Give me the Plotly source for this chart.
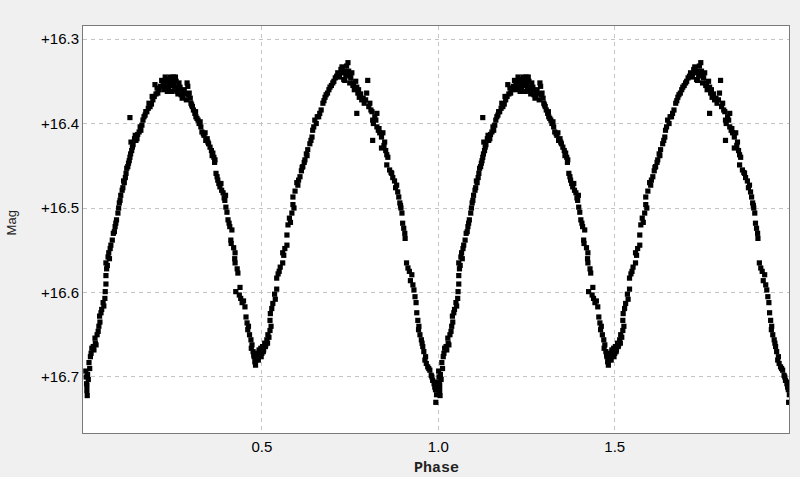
import plotly.graph_objects as go

phase = [
    0.001, 0.002, 0.003, 0.004, 0.005, 0.006, 0.008, 0.012, 0.016, 0.018,
    0.024, 0.028, 0.030, 0.033, 0.036, 0.038, 0.041, 0.040, 0.046, 0.050,
    0.055, 0.056, 0.058, 0.058, 0.060, 0.058, 0.064, 0.066, 0.070, 0.072,
    0.076, 0.079, 0.084, 0.086, 0.088, 0.092, 0.094, 0.098, 0.100, 0.104,
    0.106, 0.110, 0.115, 0.117, 0.120, 0.124, 0.126, 0.128, 0.129, 0.133,
    0.135, 0.139, 0.143, 0.148, 0.152, 0.157, 0.160, 0.163, 0.126, 0.166,
    0.169, 0.174, 0.178, 0.183, 0.187, 0.191, 0.195, 0.197, 0.200, 0.205,
    0.208, 0.213, 0.220, 0.222, 0.226, 0.228, 0.230, 0.232, 0.235, 0.238,
    0.240, 0.242, 0.244, 0.246, 0.249, 0.251, 0.253, 0.255, 0.257, 0.260,
    0.262, 0.265, 0.268, 0.271, 0.274, 0.276, 0.280, 0.284, 0.288, 0.290,
    0.294, 0.297, 0.299, 0.303, 0.306, 0.310, 0.313, 0.316, 0.319, 0.322,
    0.327, 0.330, 0.334, 0.339, 0.341, 0.345, 0.349, 0.353, 0.357, 0.361,
    0.364, 0.367, 0.370, 0.373, 0.375, 0.378, 0.381, 0.386, 0.390, 0.393,
    0.395, 0.398, 0.401, 0.404, 0.407, 0.409, 0.412, 0.413, 0.424, 0.423,
    0.424, 0.430, 0.432, 0.426, 0.436, 0.440, 0.444, 0.452, 0.455, 0.458,
    0.460, 0.465, 0.469, 0.472, 0.475, 0.478, 0.480, 0.482, 0.484, 0.487,
    0.490, 0.492, 0.494, 0.497, 0.500, 0.502, 0.505, 0.508, 0.511, 0.514,
    0.517, 0.520, 0.523, 0.523, 0.524, 0.528, 0.531, 0.536, 0.542, 0.542,
    0.546, 0.552, 0.559, 0.559, 0.565, 0.571, 0.571, 0.574, 0.578, 0.585,
    0.588, 0.588, 0.594, 0.599, 0.604, 0.608, 0.612, 0.616, 0.620, 0.622,
    0.626, 0.630, 0.636, 0.642, 0.644, 0.647, 0.650, 0.657, 0.664, 0.668,
    0.673, 0.676, 0.679, 0.686, 0.693, 0.697, 0.701, 0.708, 0.715, 0.720,
    0.724, 0.727, 0.730, 0.732, 0.735, 0.738, 0.740, 0.744, 0.746, 0.749,
    0.752, 0.755, 0.758, 0.762, 0.766, 0.769, 0.772, 0.776, 0.780, 0.783,
    0.790, 0.797, 0.800, 0.803, 0.806, 0.809, 0.812, 0.769, 0.814, 0.820,
    0.826, 0.826, 0.830, 0.834, 0.843, 0.839, 0.814, 0.848, 0.839, 0.854,
    0.857, 0.854, 0.862, 0.868, 0.871, 0.876, 0.882, 0.885, 0.888, 0.891,
    0.894, 0.897, 0.899, 0.902, 0.905, 0.906, 0.914, 0.918, 0.925, 0.928,
    0.931, 0.934, 0.937, 0.939, 0.942, 0.945, 0.948, 0.952, 0.956, 0.959,
    0.962, 0.966, 0.970, 0.976, 0.980, 0.984, 0.988, 0.992, 0.995, 0.995,
    0.993, 0.998,
    # extra observations filling the scatter band
    0.004, 0.010, 0.014, 0.022, 0.027, 0.044, 0.052, 0.062, 0.068, 0.082,
    0.096, 0.108, 0.113, 0.122, 0.131, 0.141, 0.146, 0.155, 0.171, 0.180,
    0.189, 0.203, 0.216, 0.224, 0.236, 0.248, 0.259, 0.267, 0.278, 0.286,
    0.292, 0.301, 0.312, 0.325, 0.336, 0.347, 0.359, 0.366, 0.384, 0.397,
    0.415, 0.420, 0.438, 0.448, 0.462, 0.470, 0.477, 0.483, 0.488, 0.493,
    0.498, 0.504, 0.510, 0.516, 0.526, 0.538, 0.549, 0.562, 0.581, 0.591,
    0.602, 0.614, 0.628, 0.639, 0.654, 0.661, 0.682, 0.690, 0.704, 0.712,
    0.718, 0.734, 0.742, 0.750, 0.760, 0.774, 0.787, 0.794, 0.816, 0.823,
    0.832, 0.846, 0.851, 0.866, 0.879, 0.893, 0.910, 0.921, 0.944, 0.954,
    0.964, 0.973, 0.982, 0.990,
]
mag = [
    16.693, 16.700, 16.708, 16.716, 16.722, 16.697, 16.703, 16.690, 16.672, 16.666,
    16.668, 16.660, 16.662, 16.650, 16.646, 16.640, 16.635, 16.628, 16.620, 16.612,
    16.607, 16.599, 16.590, 16.580, 16.572, 16.565, 16.558, 16.553, 16.548, 16.544,
    16.538, 16.530, 16.522, 16.518, 16.514, 16.506, 16.500, 16.491, 16.485, 16.479,
    16.476, 16.470, 16.459, 16.453, 16.451, 16.444, 16.440, 16.436, 16.422, 16.428,
    16.425, 16.418, 16.420, 16.413, 16.410, 16.408, 16.402, 16.396, 16.393, 16.392,
    16.390, 16.386, 16.382, 16.380, 16.377, 16.372, 16.368, 16.354, 16.365, 16.364,
    16.360, 16.356, 16.352, 16.360, 16.345, 16.350, 16.356, 16.362, 16.348, 16.352,
    16.345, 16.355, 16.362, 16.348, 16.345, 16.355, 16.360, 16.345, 16.350, 16.357,
    16.365, 16.352, 16.357, 16.366, 16.370, 16.369, 16.360, 16.365, 16.352, 16.356,
    16.364, 16.370, 16.376, 16.380, 16.384, 16.388, 16.392, 16.394, 16.396, 16.400,
    16.404, 16.410, 16.412, 16.411, 16.420, 16.418, 16.424, 16.428, 16.432, 16.435,
    16.440, 16.443, 16.459, 16.463, 16.467, 16.471, 16.475, 16.479, 16.482, 16.488,
    16.491, 16.499, 16.505, 16.514, 16.518, 16.522, 16.538, 16.542, 16.553, 16.560,
    16.565, 16.572, 16.577, 16.599, 16.603, 16.607, 16.612, 16.617, 16.629, 16.636,
    16.644, 16.650, 16.656, 16.662, 16.670, 16.676, 16.682, 16.686, 16.678, 16.672,
    16.680, 16.668, 16.674, 16.666, 16.672, 16.664, 16.668, 16.660, 16.662, 16.656,
    16.650, 16.653, 16.645, 16.633, 16.625, 16.619, 16.613, 16.602, 16.596, 16.583,
    16.578, 16.570, 16.565, 16.553, 16.548, 16.544, 16.532, 16.520, 16.512, 16.506,
    16.496, 16.487, 16.480, 16.470, 16.467, 16.463, 16.456, 16.451, 16.446, 16.443,
    16.436, 16.431, 16.424, 16.416, 16.408, 16.404, 16.396, 16.392, 16.388, 16.384,
    16.376, 16.373, 16.369, 16.364, 16.357, 16.355, 16.352, 16.346, 16.340, 16.345,
    16.336, 16.333, 16.340, 16.348, 16.349, 16.343, 16.332, 16.328, 16.338, 16.352,
    16.346, 16.340, 16.355, 16.360, 16.350, 16.357, 16.364, 16.369, 16.365, 16.372,
    16.376, 16.364, 16.349, 16.380, 16.376, 16.384, 16.386, 16.388, 16.396, 16.392,
    16.388, 16.404, 16.408, 16.411, 16.411, 16.416, 16.420, 16.422, 16.429, 16.437,
    16.440, 16.449, 16.455, 16.459, 16.464, 16.468, 16.473, 16.481, 16.487, 16.494,
    16.500, 16.506, 16.518, 16.524, 16.530, 16.536, 16.571, 16.575, 16.579, 16.591,
    16.597, 16.605, 16.612, 16.624, 16.633, 16.640, 16.650, 16.656, 16.664, 16.670,
    16.680, 16.684, 16.688, 16.692, 16.698, 16.704, 16.708, 16.715, 16.712, 16.721,
    16.730, 16.706,
    # extra observations filling the scatter band
    16.710, 16.683, 16.676, 16.664, 16.654, 16.624, 16.616, 16.568, 16.560, 16.528,
    16.494, 16.468, 16.464, 16.447, 16.432, 16.414, 16.418, 16.404, 16.386, 16.376,
    16.368, 16.358, 16.349, 16.355, 16.358, 16.350, 16.362, 16.360, 16.362, 16.372,
    16.366, 16.378, 16.386, 16.398, 16.414, 16.422, 16.438, 16.446, 16.471, 16.485,
    16.526, 16.547, 16.594, 16.610, 16.640, 16.666, 16.674, 16.680, 16.676, 16.670,
    16.676, 16.670, 16.664, 16.660, 16.640, 16.608, 16.575, 16.556, 16.517, 16.500,
    16.473, 16.452, 16.438, 16.420, 16.400, 16.392, 16.366, 16.360, 16.350, 16.344,
    16.342, 16.338, 16.340, 16.344, 16.352, 16.360, 16.370, 16.372, 16.400, 16.396,
    16.406, 16.426, 16.432, 16.458, 16.476, 16.497, 16.565, 16.586, 16.644, 16.660,
    16.676, 16.690, 16.700, 16.712,
]

x_ticks = [0.5, 1.0, 1.5]
x_tick_labels = ["0.5", "1.0", "1.5"]
y_ticks = [16.3, 16.4, 16.5, 16.6, 16.7]
y_tick_labels = ["+16.3", "+16.4", "+16.5", "+16.6", "+16.7"]

# The phase diagram shows two cycles: each observation is repeated at phase + 1
xs = phase + [p + 1 for p in phase]
ys = mag + mag

fig = go.Figure()
fig.add_trace(go.Scatter(
    x=xs, y=ys, mode="markers",
    marker=dict(symbol="square", size=5.2, color="black", line=dict(width=0)),
    cliponaxis=True, showlegend=False,
))

grid = dict(showgrid=True, gridcolor="#c4c4c4", griddash="4px,4px", gridwidth=1,
            zeroline=False, showline=True, linecolor="#7a7a7a", linewidth=1,
            mirror=True, ticks="", tickfont=dict(family="Liberation Sans", size=15, color="black"))

fig.update_xaxes(range=[-0.007, 1.994], tickvals=x_ticks, ticktext=x_tick_labels, **grid)
fig.update_yaxes(range=[16.7663, 16.2846], tickvals=y_ticks, ticktext=y_tick_labels, **grid)

fig.update_layout(
    width=800, height=477,
    margin=dict(l=83, r=11, t=26, b=44),
    paper_bgcolor="#f0f0f0", plot_bgcolor="white",
    annotations=[
        dict(text="<b>Phase</b>", xref="paper", yref="paper", x=0.5, y=0, yshift=-35,
             showarrow=False, xanchor="center", yanchor="middle",
             font=dict(family="Courier New, Liberation Mono, monospace", size=15, color="#222")),
        dict(text="Mag", xref="paper", yref="paper", x=0, xshift=-72, y=0.515,
             showarrow=False, textangle=-90, xanchor="center", yanchor="middle",
             font=dict(family="Liberation Sans", size=13, color="#222")),
    ],
)

fig.write_html("out.html", config={"displayModeBar": False},
               post_script="document.body.style.margin='0';document.body.style.background='#f0f0f0';")
